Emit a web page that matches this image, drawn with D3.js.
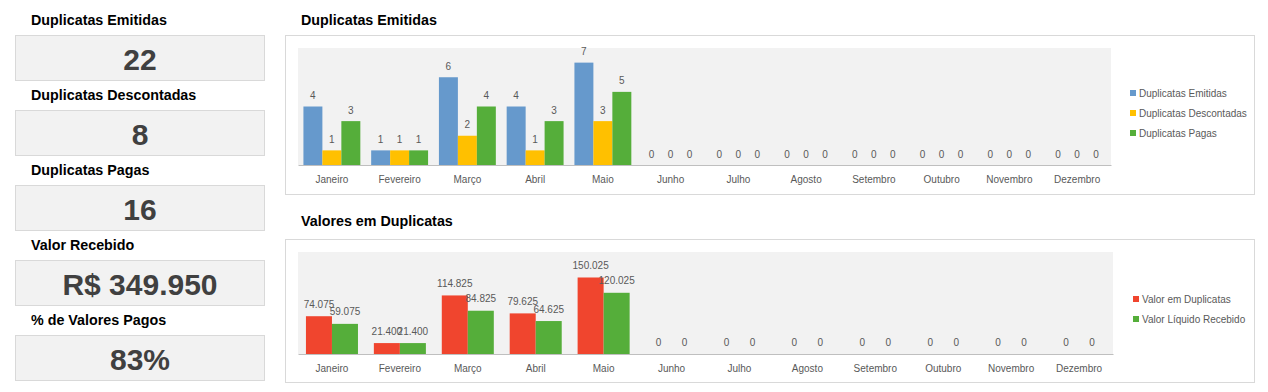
<!DOCTYPE html>
<html>
<head>
<meta charset="utf-8">
<script src="https://cdn.jsdelivr.net/npm/d3@7"></script>
<style>
  html, body { margin: 0; padding: 0; background: #ffffff; }
  svg { display: block; font-family: "Liberation Sans", Arial, sans-serif; }
</style>
</head>
<body>
<svg id="chart" width="1268" height="392"></svg>
<script>
// ---------- Data ----------
const months = ["Janeiro","Fevereiro","Março","Abril","Maio","Junho","Julho","Agosto","Setembro","Outubro","Novembro","Dezembro"];
const emitidas    = [4,1,6,4,7,0,0,0,0,0,0,0];
const descontadas = [1,1,2,1,3,0,0,0,0,0,0,0];
const pagas       = [3,1,4,3,5,0,0,0,0,0,0,0];
const valorDuplicatas = [74075,21400,114825,79625,150025,0,0,0,0,0,0,0];
const valorLiquido    = [59075,21400,84825,64625,120025,0,0,0,0,0,0,0];
const countSeries = ["Duplicatas Emitidas","Duplicatas Descontadas","Duplicatas Pagas"];
const valueSeries = ["Valor em Duplicatas","Valor Líquido Recebido"];
const kpiLabels = ["Duplicatas Emitidas","Duplicatas Descontadas","Duplicatas Pagas","Valor Recebido","% de Valores Pagos"];
const kpiValues = ["22","8","16","R$ 349.950","83%"];
const chartTitles = ["Duplicatas Emitidas","Valores em Duplicatas"];

// ---------- Styles ----------
const countColors = ["#6699CC","#FFC000","#55AE3A"];
const valueColors = ["#F0452E","#55AE3A"];
const ptBR = d3.formatLocale({decimal: ",", thousands: ".", grouping: [3], currency: ["R$ ", ""]});
const fmt = ptBR.format(",");

const svg = d3.select("#chart");

// ---------- KPI panel ----------
const kpiTop = d3.scaleLinear().domain([0, 1]).range([35, 110]);
kpiLabels.forEach((lab, i) => {
  const top = kpiTop(i);
  svg.append("text").attr("x", 31).attr("y", top - 10)
    .attr("font-size", 14.3).attr("font-weight", "bold").attr("fill", "#000")
    .text(lab);
  svg.append("rect").attr("x", 15.5).attr("y", top + 0.5).attr("width", 249).attr("height", 45)
    .attr("fill", "#F2F2F2").attr("stroke", "#D9D9D9").attr("stroke-width", 1);
  svg.append("text").attr("x", 140).attr("y", top + 35)
    .attr("text-anchor", "middle").attr("font-size", 30).attr("font-weight", "bold")
    .attr("fill", "#404040").text(kpiValues[i]);
});

// ---------- Generic grouped bar chart ----------
function barChart(opt) {
  const g = svg.append("g");
  // title
  g.append("text").attr("x", 301).attr("y", opt.titleY)
    .attr("font-size", 14.3).attr("font-weight", "bold").attr("fill", "#000")
    .text(opt.title);
  // frame
  g.append("rect").attr("x", 285.5).attr("y", opt.frame[0] + 0.5)
    .attr("width", 969).attr("height", opt.frame[1] - opt.frame[0])
    .attr("fill", "#fff").attr("stroke", "#D9D9D9");
  // plot area
  g.append("rect").attr("x", opt.plotX[0]).attr("y", opt.plotY[0])
    .attr("width", opt.plotX[1] - opt.plotX[0]).attr("height", opt.plotY[1] - opt.plotY[0])
    .attr("fill", "#F2F2F2");

  const x0 = d3.scaleBand().domain(months).range(opt.plotX)
    .paddingInner(opt.pad).paddingOuter(opt.pad / 2);
  const x1 = d3.scaleBand().domain(opt.series).range([0, x0.bandwidth()]);
  const y = d3.scaleLinear().domain(opt.yDomain).range([opt.plotY[1], opt.plotY[0]]);

  const rows = months.map((m, i) => ({m, vals: opt.data.map((arr, s) => ({s: opt.series[s], c: opt.colors[s], v: arr[i]}))}));
  const grp = g.selectAll("g.grp").data(rows).join("g")
    .attr("transform", d => `translate(${x0(d.m)},0)`);
  grp.selectAll("rect").data(d => d.vals).join("rect")
    .attr("x", d => x1(d.s)).attr("width", x1.bandwidth())
    .attr("y", d => y(d.v)).attr("height", d => y(0) - y(d.v))
    .attr("fill", d => d.c);
  grp.selectAll("text").data(d => d.vals).join("text")
    .attr("x", d => x1(d.s) + x1.bandwidth() / 2)
    .attr("y", d => y(d.v) - opt.labelOff)
    .attr("text-anchor", "middle").attr("font-size", 10).attr("fill", "#595959")
    .text(d => fmt(d.v));

  // axis
  const ax = g.append("g").attr("transform", `translate(0,${opt.plotY[1]})`)
    .call(d3.axisBottom(x0).tickSize(0).tickSizeOuter(0).tickPadding(11));
  ax.select(".domain").attr("stroke", "#BFBFBF");
  ax.selectAll("text").attr("font-size", 10).attr("fill", "#595959")
    .attr("font-family", "Liberation Sans, Arial, sans-serif");

  // legend
  opt.series.forEach((s, i) => {
    const ly = opt.legendY + i * 20;
    g.append("rect").attr("x", opt.legendX).attr("y", ly - 3).attr("width", 6).attr("height", 6)
      .attr("fill", opt.colors[i]);
    g.append("text").attr("x", opt.legendX + 9).attr("y", ly).attr("dy", "0.35em")
      .attr("font-size", 10).attr("fill", "#595959").text(s);
  });
}

barChart({
  title: chartTitles[0], titleY: 25, frame: [35, 194],
  plotX: [298, 1111], plotY: [48, 165], pad: 0.16,
  series: countSeries, colors: countColors,
  data: [emitidas, descontadas, pagas], yDomain: [0, 8],
  labelOff: 7.5, legendX: 1130, legendY: 93
});
barChart({
  title: chartTitles[1], titleY: 226, frame: [239, 382],
  plotX: [298, 1113], plotY: [252, 354], pad: 0.234,
  series: valueSeries, colors: valueColors,
  data: [valorDuplicatas, valorLiquido], yDomain: [0, 200000],
  labelOff: 8.5, legendX: 1133, legendY: 299
});
</script>
</body>
</html>
